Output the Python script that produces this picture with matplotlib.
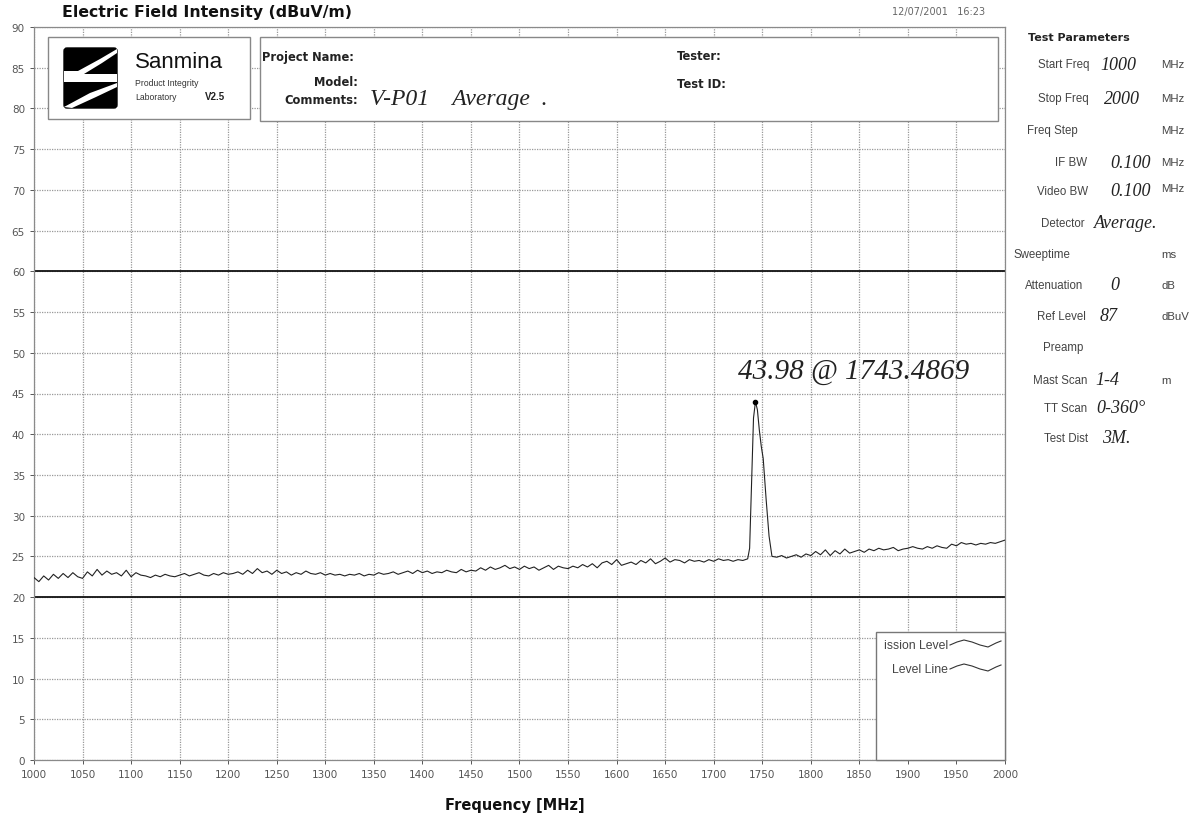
import numpy as np
import matplotlib
matplotlib.use("Agg")
import matplotlib.pyplot as plt
from matplotlib.patches import Rectangle, FancyBboxPatch, Polygon

# ---------------- data ----------------
freq_low = np.arange(1000, 1736, 5)
level_low = [
    22.4, 21.9, 22.6, 22.1, 22.8, 22.3, 22.9, 22.4, 23.0, 22.5,
    22.3, 23.1, 22.6, 23.4, 22.7, 23.2, 22.8, 23.0, 22.6, 23.3,
    22.5, 23.0, 22.7, 22.6, 22.4, 22.7, 22.5, 22.8, 22.6, 22.5,
    22.7, 22.9, 22.6, 22.8, 23.0, 22.7, 22.6, 22.9, 22.7, 23.0,
    22.8, 22.9, 23.1, 22.8, 23.3, 22.9, 23.5, 23.0, 23.2, 22.8,
    23.3, 22.9, 23.1, 22.7, 23.0, 22.8, 23.2, 22.9, 22.8, 23.0,
    22.7, 22.9, 22.7, 22.8, 22.6, 22.8, 22.7, 22.9, 22.6, 22.8,
    22.7, 23.0, 22.8, 22.9, 23.1, 22.8, 23.0, 23.2, 22.9, 23.3,
    23.0, 23.2, 22.9, 23.1, 23.0, 23.3, 23.1, 23.0, 23.4, 23.1,
    23.3, 23.2, 23.6, 23.3, 23.7, 23.4, 23.6, 23.9, 23.5, 23.7,
    23.4, 23.8, 23.5, 23.7, 23.3, 23.6, 23.9, 23.4, 23.8, 23.6,
    23.5, 23.8, 23.6, 24.0, 23.7, 24.1, 23.6, 24.2, 24.4, 24.0,
    24.6, 23.9, 24.1, 24.3, 24.0, 24.5, 24.2, 24.7, 24.1, 24.4,
    24.8, 24.3, 24.6, 24.5, 24.2, 24.6, 24.4, 24.5, 24.3, 24.6,
    24.4, 24.7, 24.5, 24.6, 24.4, 24.6, 24.5, 24.7,
]
freq_peak = [1737, 1739, 1741, 1743, 1745, 1747, 1749, 1751, 1754, 1757, 1760]
level_peak = [26.0, 34.0, 42.0, 44.0, 43.0, 40.5, 38.5, 37.0, 32.0, 27.5, 25.0]
freq_high = np.arange(1765, 2001, 5)
level_high = [
    24.9, 25.1, 24.8, 25.0, 25.2, 24.9, 25.3, 25.1, 25.6, 25.2,
    25.8, 25.1, 25.7, 25.3, 25.9, 25.4, 25.6, 25.8, 25.5, 25.9,
    25.7, 26.0, 25.8, 25.9, 26.1, 25.7, 25.9, 26.0, 26.2, 26.0,
    25.9, 26.2, 26.0, 26.3, 26.1, 26.0, 26.5, 26.3, 26.7, 26.5,
    26.6, 26.4, 26.6, 26.5, 26.7, 26.6, 26.8, 27.0,
]
marker_freq = [1743]
marker_level = [44.0]
limit_lines = [20, 60]
x_ticks = list(range(1000, 2001, 50))
y_ticks = list(range(0, 91, 5))

param_labels = ["Start Freq", "Stop Freq", "Freq Step", "IF BW", "Video BW", "Detector",
                "Sweeptime", "Attenuation", "Ref Level", "Preamp", "Mast Scan", "TT Scan", "Test Dist"]
param_values = ["1000", "2000", "", "0.100", "0.100", "Average.", "", "0", "87", "", "1-4", "0-360°", "3M."]
param_units = ["MHz", "MHz", "MHz", "MHz", "MHz", "", "ms", "dB", "dBuV", "", "m", "", ""]

# ---------------- figure ----------------
W, H = 1196, 820
fig = plt.figure(figsize=(W / 100, H / 100), dpi=100)
fig.patch.set_facecolor("white")

L, R, T, B = 34, 1005, 28, 761
ax = fig.add_axes([L / W, 1 - B / H, (R - L) / W, (B - T) / H])
freq = np.concatenate([freq_low, freq_peak, freq_high])
level = np.concatenate([level_low, level_peak, level_high])
ax.plot(freq, level, color="#222222", lw=0.8, zorder=3)
ax.plot(marker_freq, marker_level, "o", color="black", ms=3, zorder=4)
for v in limit_lines:
    ax.axhline(v, color="#111111", lw=1.3, zorder=2)
ax.set_xlim(1000, 2000)
ax.set_ylim(0, 90)
ax.set_xticks(x_ticks)
ax.set_yticks(y_ticks)
ax.grid(True, color="#999999", linestyle=(0, (1, 1)), lw=0.9, zorder=1)
ax.tick_params(axis="both", labelsize=7.5, colors="#555555", length=3, width=0.7)
for s in ax.spines.values():
    s.set_color("#8a8a8a")
    s.set_linestyle((0, (1, 1)))
    s.set_linewidth(0.9)

# overlay in pixel coordinates
ov = fig.add_axes([0, 0, 1, 1], zorder=10)
ov.set_xlim(0, W)
ov.set_ylim(H, 0)
ov.axis("off")
ov.patch.set_alpha(0)

hand = dict(family="Liberation Serif", style="italic", color="#222222")
lab_font = dict(family="Liberation Sans", color="#444444")

# title / date / xlabel
ov.text(62, 12, "Electric Field Intensity (dBuV/m)", fontsize=11.3, fontweight="bold",
        ha="left", va="center", color="#111111")
ov.text(985, 12, "12/07/2001   16:23", fontsize=7, ha="right", va="center", color="#666666")
ov.text(515, 806, "Frequency [MHz]", fontsize=10.5, fontweight="bold", ha="center", va="center",
        color="#111111")

# logo box
ov.add_patch(Rectangle((48, 38), 202, 82, facecolor="white", edgecolor="#888888", lw=1.0))
ov.add_patch(FancyBboxPatch((64, 49), 53, 60, boxstyle="round,pad=0,rounding_size=3",
                            facecolor="black", edgecolor="black"))
ov.add_patch(Polygon([(64, 72), (78, 72), (100, 60), (117, 50), (117, 54), (102, 64), (84, 75),
                      (117, 75), (117, 83), (64, 83)], closed=True, facecolor="white", edgecolor="none"))
ov.add_patch(Polygon([(64, 108), (90, 94), (117, 84), (117, 88), (96, 98), (72, 109)],
                     closed=True, facecolor="white", edgecolor="none"))
ov.text(135, 62, "Sanmina", fontsize=16, family="Liberation Sans", ha="left", va="center",
        color="#111111")
ov.text(135, 83, "Product Integrity", fontsize=6.2, family="Liberation Sans", ha="left",
        va="center", color="#333333")
ov.text(135, 97, "Laboratory", fontsize=6.2, family="Liberation Sans", ha="left", va="center",
        color="#333333")
ov.text(205, 97, "V2.5", fontsize=7, family="Liberation Sans", fontweight="bold", ha="left",
        va="center", color="#222222")

# project box
ov.add_patch(Rectangle((260, 38), 738, 84, facecolor="white", edgecolor="#888888", lw=1.0))
ov.text(262, 57, "Project Name:", fontsize=8.3, fontweight="bold", ha="left", va="center",
        color="#222222")
ov.text(358, 82, "Model:", fontsize=8.3, fontweight="bold", ha="right", va="center", color="#222222")
ov.text(358, 101, "Comments:", fontsize=8.3, fontweight="bold", ha="right", va="center",
        color="#222222")
ov.text(370, 99, "V-P01    Average  .", fontsize=17, ha="left", va="center", **hand)
ov.text(677, 57, "Tester:", fontsize=8.3, fontweight="bold", ha="left", va="center", color="#222222")
ov.text(677, 84, "Test ID:", fontsize=8.3, fontweight="bold", ha="left", va="center", color="#222222")

# peak annotation
ov.text(738, 372, "43.98 @ 1743.4869", fontsize=21, ha="left", va="center", **hand)

# legend box
ov.add_patch(Rectangle((876, 633), 129, 128, facecolor="white", edgecolor="#777777", lw=1.0))
ov.text(948, 646, "ission Level", fontsize=8.8, ha="right", va="center", **lab_font)
ov.text(948, 670, "Level Line", fontsize=8.8, ha="right", va="center", **lab_font)
wave_x = [950, 957, 964, 972, 980, 988, 996, 1001]
wave_y = [0, -3, -5, -3, 0, 2, -2, -4]
ov.plot(wave_x, [646 + w for w in wave_y], color="#333333", lw=0.8)
ov.plot(wave_x, [670 + w for w in wave_y], color="#333333", lw=0.8)

# test parameters panel
ov.text(1028, 38, "Test Parameters", fontsize=8, fontweight="bold", ha="left", va="center",
        color="#222222")
rows_y = [65, 99, 131, 163, 192, 224, 255, 286, 317, 348, 381, 409, 439]
lab_right = [1089, 1089, 1078, 1087, 1088, 1085, 1070, 1083, 1086, 1083, 1087, 1087, 1088]
val_left = [1100, 1104, 0, 1110, 1110, 1094, 0, 1110, 1100, 0, 1095, 1096, 1102]
for i, lab in enumerate(param_labels):
    y = rows_y[i]
    ov.text(lab_right[i], y, lab, fontsize=8.3, ha="right", va="center", **lab_font)
    if param_values[i]:
        ov.text(val_left[i], y, param_values[i], fontsize=13, ha="left", va="center", **hand)
    if param_units[i]:
        ov.text(1161, y - (3 if i == 4 else 0), param_units[i], fontsize=8.2,
                ha="left", va="center", **lab_font)

fig.savefig("out.png", dpi=100, facecolor="white")
